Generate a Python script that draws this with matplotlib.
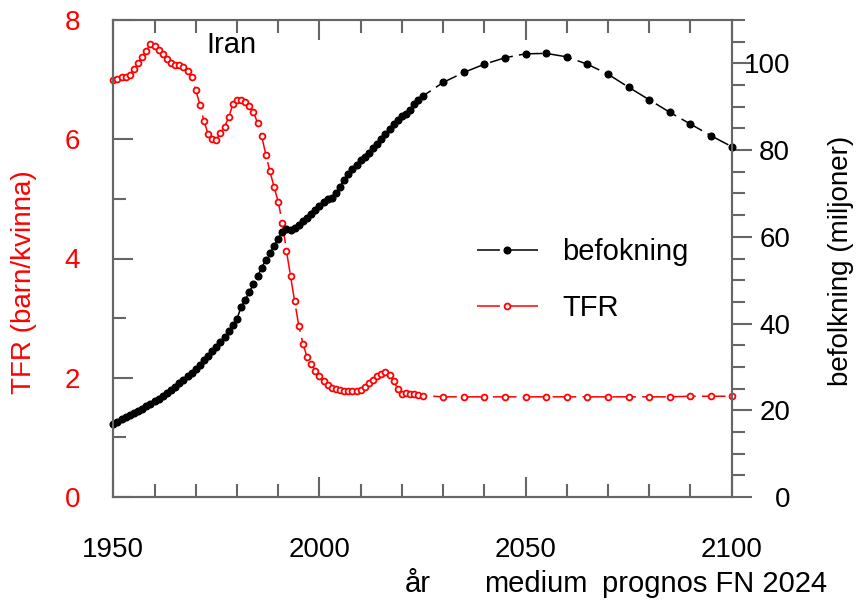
import matplotlib
matplotlib.use('Agg')
import matplotlib.pyplot as plt
from matplotlib.ticker import MultipleLocator

plt.rcParams['font.family'] = ['Liberation Sans', 'DejaVu Sans']
plt.rcParams['lines.scale_dashes'] = False

# ---------------- data ----------------
hist_years = list(range(1950, 2026))
proj_years = list(range(2030, 2101, 5))

tfr_hist = [7.00, 7.01, 7.04, 7.05, 7.08, 7.18, 7.28, 7.38, 7.48, 7.60,
            7.56, 7.49, 7.43, 7.34, 7.28, 7.25, 7.25, 7.22, 7.15, 7.04,
            6.83, 6.58, 6.30, 6.09, 6.00, 5.99, 6.11, 6.21, 6.37, 6.59,
            6.66, 6.65, 6.62, 6.55, 6.46, 6.27, 6.05, 5.74, 5.46, 5.20,
            4.95, 4.60, 4.13, 3.70, 3.28, 2.87, 2.57, 2.35, 2.23, 2.12,
            2.03, 1.95, 1.88, 1.83, 1.81, 1.80, 1.78, 1.78, 1.78, 1.78,
            1.80, 1.84, 1.91, 1.96, 2.03, 2.06, 2.09, 2.05, 1.95, 1.81,
            1.73, 1.74, 1.73, 1.73, 1.71, 1.70]
tfr_proj = [1.68, 1.68, 1.68, 1.68, 1.68, 1.68, 1.68, 1.68,
            1.68, 1.68, 1.68, 1.68, 1.69, 1.69, 1.69]

pop_hist = [16.9, 17.4, 17.9, 18.4, 18.9, 19.4, 19.9, 20.4, 20.9, 21.5,
            22.1, 22.7, 23.3, 24.0, 24.7, 25.4, 26.2, 27.0, 27.8, 28.7,
            29.6, 30.5, 31.5, 32.5, 33.6, 34.7, 35.8, 37.0, 38.3, 39.7,
            41.1, 43.8, 45.5, 47.3, 49.1, 50.9, 52.9, 54.7, 56.3, 57.9,
            59.6, 61.2, 61.7, 61.6, 62.1, 62.8, 63.6, 64.4, 65.3, 66.2,
            67.1, 68.0, 68.7, 68.9, 70.1, 71.6, 73.2, 74.6, 75.6, 76.6,
            77.6, 78.5, 79.4, 80.4, 81.4, 82.5, 83.6, 84.8, 86.0, 86.9,
            87.8, 88.3, 89.3, 90.6, 91.5, 92.4]
pop_proj = [95.6, 97.9, 99.8, 101.3, 102.2, 102.3, 101.5, 99.8,
            97.5, 94.5, 91.6, 88.7, 86.0, 83.3, 80.8]

years = hist_years + proj_years
tfr = tfr_hist + tfr_proj
pop = pop_hist + pop_proj

# ---------------- figure ----------------
W, H = 861, 603
fig = plt.figure(figsize=(W / 100, H / 100), dpi=100)
L, R, B, T = 113.3, 731.7, 497, 20
ax = fig.add_axes([L / W, 1 - B / H, (R - L) / W, (B - T) / H])
ax2 = ax.twinx()

gray = '#666666'
dash = (17, 4.5)

l_tfr, = ax.plot(years, tfr, color='red', lw=1.1, dashes=dash, marker='o',
                 ms=4.2, mfc='white', mec='red', mew=1.3, clip_on=False)
l_pop, = ax2.plot(years, pop, color='black', lw=1.1, dashes=dash, marker='o',
                  ms=4.8, mfc='black', mec='black', clip_on=False)

ax.set_xlim(1950, 2100)
ax.set_ylim(0, 8)
ax2.set_ylim(0, 110)

ax.xaxis.set_major_locator(MultipleLocator(50))
ax.xaxis.set_minor_locator(MultipleLocator(10))
ax.yaxis.set_major_locator(MultipleLocator(2))
ax.yaxis.set_minor_locator(MultipleLocator(1))
ax2.yaxis.set_major_locator(MultipleLocator(20))
ax2.yaxis.set_minor_locator(MultipleLocator(5))

ax.tick_params(axis='x', which='both', direction='in', top=True, bottom=True,
               color=gray, width=1.5, labelsize=20, labelcolor='black', pad=29)
ax.tick_params(axis='x', which='major', length=14.4)
ax.tick_params(axis='x', which='minor', length=9.4)
ax.tick_params(axis='y', which='both', direction='in', left=True, right=False,
               color=gray, width=1.5, labelsize=20, labelcolor='red', pad=23.8)
ax.tick_params(axis='y', which='major', length=14.4)
ax.tick_params(axis='y', which='minor', length=9.4)
ax2.tick_params(axis='y', which='both', direction='out', right=True, left=False,
                color=gray, width=1.5, labelsize=20, labelcolor='black', pad=27.6)
ax2.tick_params(axis='y', which='major', length=14.4)
ax2.tick_params(axis='y', which='minor', length=9.4)

for a in (ax, ax2):
    for s in a.spines.values():
        s.set_color(gray)
        s.set_linewidth(1.5)

leg = ax2.legend([l_pop, l_tfr], ['befokning', 'TFR'], loc='upper left',
                 bbox_to_anchor=(476.7 / W, 1 - 238 / H),
                 bbox_transform=fig.transFigure, frameon=False, fontsize=21,
                 handlelength=2.09, handletextpad=0.85, labelspacing=0.97,
                 borderpad=0, borderaxespad=0, numpoints=1)
for ln in leg.get_lines():
    ln.set_dashes((16.5, 5, 30, 0.01))

fig.text(206 / W, 1 - 53 / H, 'Iran', fontsize=21, ha='left', va='baseline')
fig.text(24 / W, 1 - 282 / H, 'TFR (barn/kvinna)', rotation=90, color='red',
         fontsize=20, ha='center', va='center')
fig.text(840.5 / W, 1 - 261 / H, 'befolkning (miljoner)', rotation=90,
         color='black', fontsize=20, ha='center', va='center')
fig.text(405 / W, 1 - 592 / H, 'år', fontsize=21, ha='left', va='baseline')
fig.text(484 / W, 1 - 592 / H, 'medium', fontsize=21, ha='left', va='baseline')
fig.text(602 / W, 1 - 592 / H, 'prognos FN 2024', fontsize=21, ha='left',
         va='baseline')

fig.canvas.draw()
for tk in ax2.yaxis.get_major_ticks():
    tk.label2.set_horizontalalignment('right')

fig.savefig('out.png', dpi=100)
